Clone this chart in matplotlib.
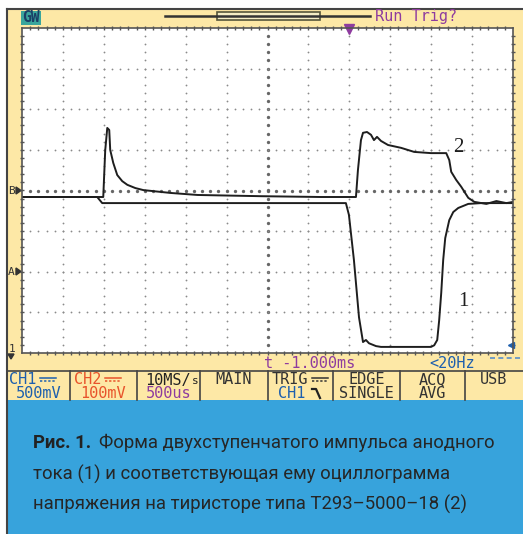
import matplotlib
import matplotlib.pyplot as plt
import numpy as np
from matplotlib.patches import Polygon, Rectangle

matplotlib.use("Agg")

W, H = 523, 534

# trace 2 - voltage on the thyristor (CH2); time in ms, level in screen divisions
t_volt = [0.0, 0.993, 1.017, 1.042, 1.066, 1.078, 1.115, 1.164, 1.225, 1.287,
          1.385, 1.483, 1.814, 2.145, 2.917, 3.652, 4.081, 4.105, 4.142, 4.167,
          4.216, 4.265, 4.301, 4.338, 4.387, 4.473, 4.632, 4.792, 4.998, 5.184,
          5.221, 5.245, 5.306, 5.368, 5.453, 5.527, 5.674, 5.797, 5.919, 6.005]
v_volt = [-0.16, -0.16, 0.99, 1.54, 1.49, 1.0, 0.68, 0.38, 0.23, 0.14,
          0.06, 0.01, -0.06, -0.11, -0.14, -0.16, -0.16, 0.50, 1.24, 1.42,
          1.44, 1.37, 1.24, 1.32, 1.22, 1.12, 1.05, 0.95, 0.92, 0.92,
          0.75, 0.46, 0.26, 0.09, -0.18, -0.28, -0.33, -0.26, -0.31, -0.28]

# trace 1 - anode current (CH1)
t_curr = [0.0, 0.919, 0.980, 2.181, 3.958, 3.995, 4.056, 4.118, 4.167, 4.203,
          4.240, 4.326, 4.387, 4.998, 5.037, 5.074, 5.098, 5.123, 5.147, 5.172,
          5.221, 5.270, 5.331, 5.453, 5.613, 6.005]
v_curr = [-0.16, -0.16, -0.31, -0.31, -0.31, -0.60, -1.71, -3.12, -3.73, -3.68,
          -3.76, -3.83, -3.85, -3.85, -3.81, -3.68, -3.19, -2.52, -1.71, -1.17,
          -0.73, -0.53, -0.43, -0.33, -0.31, -0.31]

trace_labels = ["2", "1"]
label_pos = [(5.33, 1.07), (5.39, -2.74)]

info_row1 = ["CH1", "CH2", "10MS/s", "MAIN", "TRIG", "EDGE", "ACQ", "USB"]
info_row2 = ["500mV", "100mV", "500us", "", "CH1", "SINGLE", "AVG", ""]
info_col1 = ["#1d5fae", "#e8532b", "#222222", "#333333", "#333333", "#333333", "#333333", "#333333"]
info_col2 = ["#1d5fae", "#e8532b", "#8e3b9f", "#333333", "#1d5fae", "#333333", "#333333", "#333333"]

caption_bold = "Рис. 1."
caption_lines = ["Форма двухступенчатого импульса анодного",
                 "тока (1) и соответствующая ему оциллограмма",
                 "напряжения на тиристоре типа Т293–5000–18 (2)"]

YELLOW = "#fde8a6"
BLUE = "#37a3dc"
PURPLE = "#8e3b9f"
MONO = "DejaVu Sans Mono"

fig = plt.figure(figsize=(W / 100, H / 100), dpi=100)
bg = fig.add_axes([0, 0, 1, 1])
bg.set_xlim(0, W)
bg.set_ylim(H, 0)
bg.axis("off")

# screen frame, yellow panel, caption box
bg.add_patch(Rectangle((7, 9), W - 7, 391, facecolor=YELLOW, edgecolor="none"))
bg.add_patch(Rectangle((7, 400), W - 7, H - 400, facecolor=BLUE, edgecolor="none"))
bg.plot([7, W], [9, 9], color="#444444", lw=1.5)
bg.plot([7, 7], [9, H], color="#444444", lw=1.5)

# top status line
bg.add_patch(Rectangle((21, 10.5), 20, 14, facecolor="#3aa59c", edgecolor="none"))
bg.text(31, 17.5, "GW", fontsize=10.5, fontweight="bold", color="#1b3f66",
        family=MONO, ha="center", va="center")
bg.plot([165, 370], [16, 16], color="#333333", lw=1.8)
bg.add_patch(Rectangle((217, 12), 103, 8, facecolor="#f3ecc4", edgecolor="#55553a", lw=1.2))
bg.text(375, 16, "Run Trig?", fontsize=11, color=PURPLE, family=MONO, va="center")

# channel markers on the left
bg.text(8, 191, "B", fontsize=8, color="#333333", family=MONO, va="center")
bg.add_patch(Polygon([[16, 187], [16, 194], [21, 190.5]], color="#333333"))
bg.text(8, 272, "A", fontsize=8, color="#333333", family=MONO, va="center")
bg.add_patch(Polygon([[16, 268], [16, 275], [21, 271.5]], color="#333333"))
bg.text(9, 349, "1", fontsize=8, color="#333333", family=MONO, va="center")
bg.add_patch(Polygon([[8, 354], [14, 354], [11, 359]], color="#333333"))

# readout below the grid
bg.text(264, 363, "t -1.000ms", fontsize=11, color=PURPLE, family=MONO, va="center")
bg.text(429, 363, "<20Hz", fontsize=11, color="#1d5fae", family=MONO, va="center")
bg.plot([490, 522], [358, 358], color="#5a8fc8", lw=1.2, ls=(0, (3, 2)))

# info bar
seps = [70, 137, 200, 268, 333, 400, 465]
bg.plot([7, W], [371, 371], color="#444444", lw=1.2)
for s in seps:
    bg.plot([s, s], [371, 400], color="#444444", lw=1.2)
edges = [7] + seps + [W]
for i in range(len(info_row1)):
    cx = (edges[i] + edges[i + 1]) / 2
    r1 = info_row1[i]
    if r1 in ("CH1", "CH2", "TRIG"):
        x0 = edges[i] + (2 if i == 0 else 4)
        bg.text(x0, 380, r1, fontsize=11, color=info_col1[i], family=MONO, va="center")
        sx = x0 + len(r1) * 9.3 + 3
        bg.plot([sx, sx + 16], [377.5, 377.5], color=info_col1[i], lw=1.1)
        bg.plot([sx, sx + 16], [381, 381], color=info_col1[i], lw=1.1, ls=(0, (1.5, 1.2)))
    elif r1 == "10MS/s":
        bg.text(edges[i] + 8, 380, "10MS/", fontsize=11, color=info_col1[i], family=MONO, va="center")
        bg.text(edges[i] + 8 + 5 * 9.3, 381, "s", fontsize=8, color=info_col1[i], family=MONO, va="center")
    else:
        bg.text(cx, 380, r1, fontsize=11, color=info_col1[i], family=MONO, ha="center", va="center")
    r2 = info_row2[i]
    if r2:
        if i == 4:
            bg.text(cx - 9, 394, r2, fontsize=11, color=info_col2[i], family=MONO, ha="center", va="center")
            bg.plot([312, 316, 320], [389, 389, 398], color="#222222", lw=1.6)
        else:
            bg.text(cx, 394, r2, fontsize=11, color=info_col2[i], family=MONO, ha="center", va="center")

# caption
cap_font = ["Roboto", "DejaVu Sans"]
cap_size = 13.3
renderer = fig.canvas.get_renderer()
b = bg.text(33, 443, caption_bold, fontsize=cap_size, fontweight="bold", color="#222222",
            family=cap_font, va="center")
bb = b.get_window_extent(renderer)
x_after = bg.transData.inverted().transform((bb.x1, bb.y0))[0] + 8
bg.text(x_after, 443, caption_lines[0], fontsize=cap_size, color="#262626", family=cap_font, va="center")
for k, line in enumerate(caption_lines[1:]):
    bg.text(33, 474 + 30 * k, line, fontsize=cap_size, color="#262626", family=cap_font, va="center")

# oscilloscope grid
ax = fig.add_axes([22 / W, 1 - 353 / H, 491 / W, 325 / H])
ax.set_xlim(0, 6)
ax.set_ylim(-4, 4)
ax.set_facecolor("white")
for sp in ax.spines.values():
    sp.set_color("#555555")
    sp.set_linewidth(1.2)
ax.set_xticks([])
ax.set_yticks([])

ys = np.arange(-4, 4.01, 0.2)[1:-1]
xs = np.arange(0, 6.001, 0.1)[1:-1]
for k in range(1, 12):
    gx = k * 0.5
    big = k == 6
    ax.plot(np.full_like(ys, gx), ys, ls="none", marker="o",
            ms=2.4 if big else 1.3, color="#666666" if big else "#8a8a8a", mew=0)
for r in range(-3, 4):
    big = r == 0
    ax.plot(xs, np.full_like(xs, r), ls="none", marker="o",
            ms=2.4 if big else 1.3, color="#666666" if big else "#8a8a8a", mew=0)
# ticks along the border
ax.plot(xs, np.full_like(xs, 4), ls="none", marker="|", ms=3, color="#555555", clip_on=False)
ax.plot(xs, np.full_like(xs, -4), ls="none", marker="|", ms=3, color="#555555", clip_on=False)
ax.plot(np.full_like(ys, 0), ys, ls="none", marker="_", ms=3, color="#555555", clip_on=False)
ax.plot(np.full_like(ys, 6), ys, ls="none", marker="_", ms=3, color="#555555", clip_on=False)

# traces
ax.plot(t_volt, v_volt, color="#1e1e1e", lw=1.4, solid_joinstyle="round")
ax.plot(t_curr, v_curr, color="#1e1e1e", lw=1.4, solid_joinstyle="round")
for lab, (lx, ly) in zip(trace_labels, label_pos):
    ax.text(lx, ly, lab, fontsize=15, family="Liberation Serif", color="#1e1e1e",
            ha="center", va="center")

# trigger position / level markers
ax.plot([4.0], [3.97], marker="v", ms=7, color=PURPLE, clip_on=False)
ax.plot([5.98], [-3.8], marker="<", ms=5, color="#1d5fae", clip_on=False)

fig.savefig("out.png", dpi=100)
